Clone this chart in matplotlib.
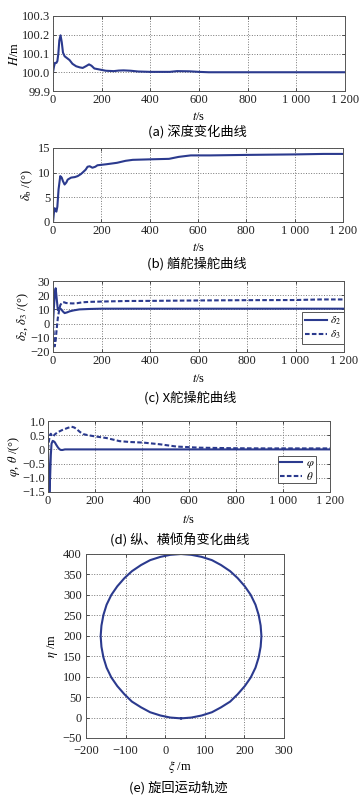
import numpy as np
import matplotlib.pyplot as plt

# ---- data ----
# (a) depth H
t_a = [0, 4, 8, 14, 18, 22, 26, 31, 36, 41, 48, 55, 68, 80, 95, 110, 122, 135, 148, 158, 170,
       190, 217, 250, 270, 290, 320, 350, 400, 480, 510, 560, 600, 640, 800, 1000, 1200]
H = [100.0, 100.03, 100.05, 100.05, 100.06, 100.1, 100.17, 100.197, 100.16, 100.105, 100.085,
     100.078, 100.065, 100.045, 100.032, 100.026, 100.023, 100.032, 100.042, 100.035, 100.02,
     100.015, 100.008, 100.006, 100.009, 100.01, 100.008, 100.004, 100.002, 100.002, 100.006,
     100.005, 100.002, 100.0, 100.0, 100.0, 100.0]

# (b) stern plane delta_b
t_b = [0, 4, 7, 10, 14, 18, 23, 30, 36, 41, 48, 55, 61, 75, 90, 102, 115, 122, 135, 143, 152,
       163, 175, 184, 220, 265, 300, 330, 400, 480, 520, 570, 650, 800, 1000, 1120, 1200]
delta_b = [0, 2.0, 2.8, 2.3, 2.1, 3.1, 6.6, 9.3, 9.0, 8.3, 7.6, 8.0, 8.6, 9.0, 9.1, 9.3, 9.7,
           10.0, 10.6, 11.2, 11.3, 11.0, 11.2, 11.5, 11.7, 12.0, 12.4, 12.6, 12.7, 12.8, 13.2,
           13.5, 13.5, 13.6, 13.7, 13.8, 13.8]

# (c) X rudder delta_2 / delta_3
t_c = [0, 4, 8, 11, 15, 20, 27, 34, 41, 48, 58, 68, 85, 109, 150, 200, 400, 800, 1200]
delta_2 = [0, 12, 22, 24.9, 18, 9.5, 11, 10, 8.5, 7.4, 7.9, 8.6, 9.3, 10, 10.3, 10.5, 10.5, 10.5, 10.5]
t_c3 = [0, 4, 7, 11, 15, 20, 25, 30, 38, 46, 54, 68, 82, 100, 122, 150, 218, 300, 400, 600, 800, 1000, 1100, 1200]
delta_3 = [0, -10, -16, -12, -4, 4, 9, 13, 15, 15, 14.5, 14.3, 14.2, 14.4, 15, 15.3, 15.6, 15.9,
           16.0, 16.3, 16.5, 16.6, 17.0, 17.0]

# (d) roll / pitch
t_d = [0, 3, 6, 9, 12, 15, 20, 25, 29, 36, 43, 50, 55, 62, 72, 100, 200, 600, 1200]
phi = [0, -0.8, -1.5, -1.0, -0.2, 0.2, 0.3, 0.28, 0.25, 0.15, 0.06, 0.0, -0.02, -0.02, 0.0,
       0.0, 0.0, 0.0, 0.0]
t_d2 = [0, 4, 8, 12, 17, 22, 28, 40, 60, 85, 100, 112, 121, 135, 149, 170, 199, 249, 305,
        350, 405, 476, 547, 646, 800, 930, 1200]
theta = [0, 0.3, 0.5, 0.55, 0.47, 0.45, 0.52, 0.6, 0.68, 0.76, 0.8, 0.77, 0.72, 0.62, 0.54,
         0.5, 0.46, 0.4, 0.29, 0.26, 0.24, 0.18, 0.1, 0.06, 0.04, 0.035, 0.035]

# (e) turning trajectory (xi, eta), points read around the loop
xi = [40, 66, 92, 118, 141, 164, 183, 201, 216, 228, 236, 241, 243,
      241, 236, 228, 216, 201, 183, 164, 141, 118, 92, 66, 40,
      13, -12, -38, -61, -84, -103, -121, -136, -148, -156, -161, -163,
      -161, -156, -148, -136, -121, -103, -84, -61, -38, -12, 13, 40]
eta = [-2, 0, 5, 13, 25, 39, 57, 77, 98, 122, 147, 173, 199,
       225, 251, 276, 300, 321, 341, 358, 373, 385, 393, 398, 400,
       398, 393, 385, 373, 358, 341, 321, 300, 276, 251, 225, 199,
       173, 147, 122, 98, 77, 57, 39, 25, 13, 5, 0, -2]

xticks_t = [0, 200, 400, 600, 800, 1000, 1200]
xtick_labels_t = ['0', '200', '400', '600', '800', '1 000', '1 200']

# ---- figure ----
W, Hpx = 362, 797
fig = plt.figure(figsize=(W / 100, Hpx / 100), dpi=100)
plt.rcParams['font.family'] = ['Liberation Serif', 'DejaVu Serif']
plt.rcParams['mathtext.fontset'] = 'stix'

line_c = '#2B3A8E'
fs = 9
fcap = 9.5
cjk = ['Noto Sans CJK SC', 'DejaVu Sans']
dash = (2.2, 1.1)


def add_ax(l, r, t, b):
    return fig.add_axes([l / W, 1 - b / Hpx, (r - l) / W, (b - t) / Hpx])


def style(ax):
    ax.grid(True, linestyle=':', color='#777777', linewidth=0.7)
    ax.tick_params(direction='in', labelsize=fs, length=2, width=0.6, colors='#333333',
                   labelcolor='#222222', top=True, right=True, pad=2)
    for s in ax.spines.values():
        s.set_color('#555555')
        s.set_linewidth(0.7)


def ftext(x, y, s, **kw):
    fig.text(x / W, 1 - y / Hpx, s, ha='center', va='center', **kw)


# (a)
ax = add_ax(53, 345, 16, 91)
ax.plot(t_a, H, color=line_c, lw=1.5)
ax.set_xlim(0, 1200)
ax.set_ylim(99.9, 100.3)
ax.set_yticks([99.9, 100.0, 100.1, 100.2, 100.3])
ax.set_yticklabels(['99.9', '100.0', '100.1', '100.2', '100.3'])
ax.set_xticks(xticks_t)
ax.set_xticklabels(xtick_labels_t)
ax.set_ylabel(r'$H$/m', fontsize=fs, labelpad=1)
style(ax)
ftext(199, 117, r'$t$/s', fontsize=fs)
ftext(197, 133, '(a) 深度变化曲线', fontsize=fcap, family=cjk)

# (b)
ax = add_ax(53, 343, 148, 222)
ax.plot(t_b, delta_b, color=line_c, lw=1.5)
ax.set_xlim(0, 1200)
ax.set_ylim(0, 15)
ax.set_yticks([0, 5, 10, 15])
ax.set_xticks(xticks_t)
ax.set_xticklabels(xtick_labels_t)
ax.set_ylabel(r'$\delta_{\mathrm{b}}$ /(°)', fontsize=fs, labelpad=2)
style(ax)
ftext(199, 248, r'$t$/s', fontsize=fs)
ftext(197, 264, '(b) 艏舵操舵曲线', fontsize=fcap, family=cjk)

# (c)
ax = add_ax(53, 344, 281, 352)
ax.plot(t_c, delta_2, color=line_c, lw=1.5, label=r'$\delta_2$')
ax.plot(t_c3, delta_3, color=line_c, lw=1.5, ls='--', dashes=dash, label=r'$\delta_3$')
ax.set_xlim(0, 1200)
ax.set_ylim(-20, 30)
ax.set_yticks([-20, -10, 0, 10, 20, 30])
ax.set_yticklabels(['−20', '−10', '0', '10', '20', '30'])
ax.set_xticks(xticks_t)
ax.set_xticklabels(xtick_labels_t)
ax.set_ylabel(r'$\delta_2$, $\delta_3$ /(°)', fontsize=fs, labelpad=0)
style(ax)
leg = ax.legend(loc='lower right', bbox_to_anchor=(1.0, 0.11), fontsize=fs - 1, handlelength=2.0,
                handletextpad=0.3, borderpad=0.25, labelspacing=0.15, fancybox=False,
                framealpha=1, edgecolor='#555555', borderaxespad=0)
leg.get_frame().set_linewidth(0.7)
ftext(199, 379, r'$t$/s', fontsize=fs)
ftext(190, 398, '(c) X舵操舵曲线', fontsize=fcap, family=cjk)

# (d)
ax = add_ax(48, 330, 421, 492)
ax.plot(t_d, phi, color=line_c, lw=1.5, label=r'$\varphi$')
ax.plot(t_d2, theta, color=line_c, lw=1.5, ls='--', dashes=dash, label=r'$\theta$')
ax.set_xlim(0, 1200)
ax.set_ylim(-1.5, 1.0)
ax.set_yticks([-1.5, -1.0, -0.5, 0, 0.5, 1.0])
ax.set_yticklabels(['−1.5', '−1.0', '−0.5', '0', '0.5', '1.0'])
ax.set_xticks(xticks_t)
ax.set_xticklabels(xtick_labels_t)
ax.set_ylabel(r'$\varphi$, $\theta$ /(°)', fontsize=fs, labelpad=0)
style(ax)
leg = ax.legend(loc='lower right', bbox_to_anchor=(0.95, 0.12), fontsize=fs - 1, handlelength=2.0,
                handletextpad=0.3, borderpad=0.15, labelspacing=0.0, fancybox=False,
                framealpha=1, edgecolor='#555555', borderaxespad=0)
leg.get_frame().set_linewidth(0.7)
ftext(189, 520, r'$t$/s', fontsize=fs)
ftext(180, 540, '(d) 纵、横倾角变化曲线', fontsize=fcap, family=cjk)

# (e)
ax = add_ax(86, 284, 554, 738)
ax.plot(xi, eta, color=line_c, lw=1.5)
ax.set_xlim(-200, 300)
ax.set_ylim(-50, 400)
ax.set_xticks([-200, -100, 0, 100, 200, 300])
ax.set_xticklabels(['−200', '−100', '0', '100', '200', '300'])
ax.set_yticks([-50, 0, 50, 100, 150, 200, 250, 300, 350, 400])
ax.set_yticklabels(['−50', '0', '50', '100', '150', '200', '250', '300', '350', '400'])
ax.set_ylabel(r'$\eta$ /m', fontsize=fs, labelpad=2)
style(ax)
ax.tick_params(axis='x', pad=5)
ax.tick_params(axis='y', pad=3)
ftext(180, 767, r'$\xi$ /m', fontsize=fs)
ftext(178, 788, '(e) 旋回运动轨迹', fontsize=fcap, family=cjk)

fig.savefig('out.png', dpi=100)
